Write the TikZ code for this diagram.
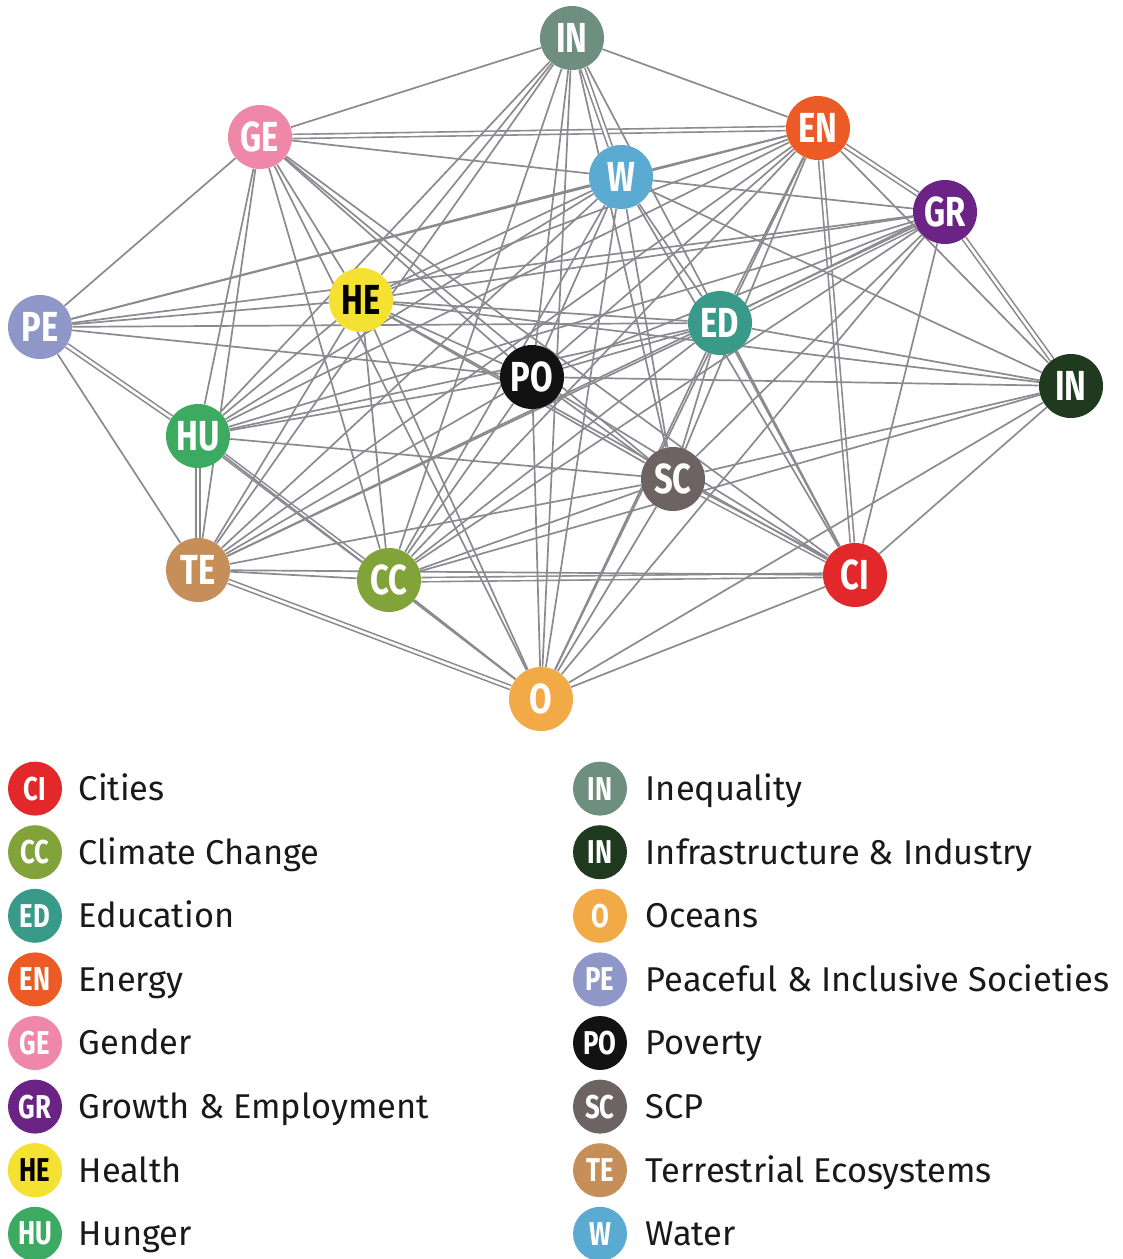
\documentclass[tikz,border=0pt]{standalone}
\usepackage{fontspec}
\setmainfont{Fira Sans}
\newfontfamily\tagfont[FakeStretch=0.78]{Fira Sans}
\usetikzlibrary{positioning}

\definecolor{linkgray}{HTML}{8A8A90}
\definecolor{cities}{HTML}{E2282B}
\definecolor{climate}{HTML}{82A23A}
\definecolor{education}{HTML}{3A9A8A}
\definecolor{energy}{HTML}{EC5B26}
\definecolor{gender}{HTML}{EE87A8}
\definecolor{growth}{HTML}{6B2485}
\definecolor{health}{HTML}{F4E131}
\definecolor{hunger}{HTML}{3DAA62}
\definecolor{inequality}{HTML}{6E8E80}
\definecolor{infra}{HTML}{1F3A1F}
\definecolor{oceans}{HTML}{F2AA46}
\definecolor{peace}{HTML}{8E97C8}
\definecolor{poverty}{HTML}{121212}
\definecolor{scp}{HTML}{6E6363}
\definecolor{terra}{HTML}{C68E58}
\definecolor{water}{HTML}{5BAAD2}

\pgfdeclarelayer{links}
\pgfsetlayers{links,main}

\tikzset{
  goal/.style={circle, fill=#1, minimum size=32pt, inner sep=0pt, text=white,
    font=\tagfont\bfseries\fontsize{21}{21}\selectfont},
  key/.style={circle, fill=#1, minimum size=27pt, inner sep=0pt, text=white,
    font=\tagfont\bfseries\fontsize{16.5}{16.5}\selectfont},
  keytext/.style={inner sep=0pt, text=black!90,
    font=\fontsize{17.2}{19}\selectfont},
  link/.style={draw=linkgray, line width=0.85pt},
  twin/.style={draw=linkgray, line width=0.8pt, double=white, double distance=1.3pt}
}

\begin{document}
\begin{tikzpicture}[x=0.5pt, y=-0.5pt, line join=round, line cap=round]
  \useasboundingbox (0,0) rectangle (1123,1259);

  % goals
  \node[goal=inequality] (inq) at (572,38)  {IN};
  \node[goal=gender]     (ge)  at (260,137) {GE};
  \node[goal=energy]     (en)  at (818,128) {EN};
  \node[goal=water]      (w)   at (621,177) {W};
  \node[goal=growth]     (gr)  at (945,212) {GR};
  \node[goal=peace]      (pe)  at (40,327)  {PE};
  \node[goal=health, text=black] (he) at (361,300) {HE};
  \node[goal=education]  (ed)  at (720,323) {ED};
  \node[goal=poverty]    (po)  at (532,377) {PO};
  \node[goal=infra]      (inf) at (1071,386) {IN};
  \node[goal=hunger]     (hu)  at (198,436) {HU};
  \node[goal=scp]        (sc)  at (673,479) {SC};
  \node[goal=terra]      (te)  at (198,570) {TE};
  \node[goal=climate]    (cc)  at (389,580) {CC};
  \node[goal=cities]     (ci)  at (855,575) {CI};
  \node[goal=oceans]     (o)   at (541,699) {O};

  % links
  \begin{pgfonlayer}{links}
    \foreach \a/\b in {ge/en, inq/w, en/gr, en/ci, gr/ed, gr/inf, pe/hu,
                       hu/te, hu/cc, sc/ci, te/o, cc/ci}
      \draw[twin] (\a) -- (\b);
    \foreach \a/\b in {inq/ge, inq/en, inq/he, inq/hu, inq/te, inq/cc, inq/po,
                       inq/o, inq/sc, inq/ci,
                       ge/pe, ge/he, ge/hu, ge/te, ge/cc, ge/po, ge/sc, ge/ci,
                       ge/o, ge/w,
                       en/w, en/pe, en/he, en/hu, en/ed, en/po, en/sc, en/cc,
                       en/te, en/o, en/inf,
                       w/pe, w/he, w/hu, w/te, w/cc, w/po, w/ed, w/sc, w/ci,
                       w/o, w/gr, w/inf,
                       gr/po, gr/hu, gr/he, gr/ci, gr/sc, gr/o, gr/cc, gr/te,
                       gr/pe,
                       pe/he, pe/po, pe/te, pe/ed,
                       he/po, he/hu, he/te, he/cc, he/o, he/sc, he/ed, he/inf,
                       he/ci,
                       ed/po, ed/hu, ed/te, ed/cc, ed/sc, ed/ci, ed/inf, ed/o,
                       po/hu, po/te, po/cc, po/o, po/sc, po/ci, po/inf,
                       inf/sc, inf/ci, inf/o, inf/cc,
                       hu/o, hu/sc, sc/te, sc/cc, sc/o, te/cc, te/ci,
                       cc/o, ci/o}
      \draw[link] (\a) -- (\b);
  \end{pgfonlayer}

  % legend
  \foreach \c/\t/\n [count=\i] in {cities/CI/Cities, climate/CC/Climate Change,
      education/ED/Education, energy/EN/Energy, gender/GE/Gender,
      growth/GR/Growth \& Employment, health/HE/Health, hunger/HU/Hunger}
  {
    \node[key=\c] (k\i) at (35,725+63.6*\i) {\t};
    \node[keytext, right=8pt of k\i, anchor=base west, yshift=-5.9pt] (t\i) {\n};
  }
  \node[key=health, text=black] at (k7) {HE};
  \foreach \c/\t/\n [count=\i] in {inequality/IN/Inequality,
      infra/IN/Infrastructure \& Industry, oceans/O/Oceans,
      peace/PE/Peaceful \& Inclusive Societies, poverty/PO/Poverty,
      scp/SC/SCP, terra/TE/Terrestrial Ecosystems, water/W/Water}
  {
    \node[key=\c] (r\i) at (600,725+63.6*\i) {\t};
    \node[keytext, right=9pt of r\i, anchor=base west, yshift=-5.9pt] (s\i) {\n};
  }
\end{tikzpicture}
\end{document}
